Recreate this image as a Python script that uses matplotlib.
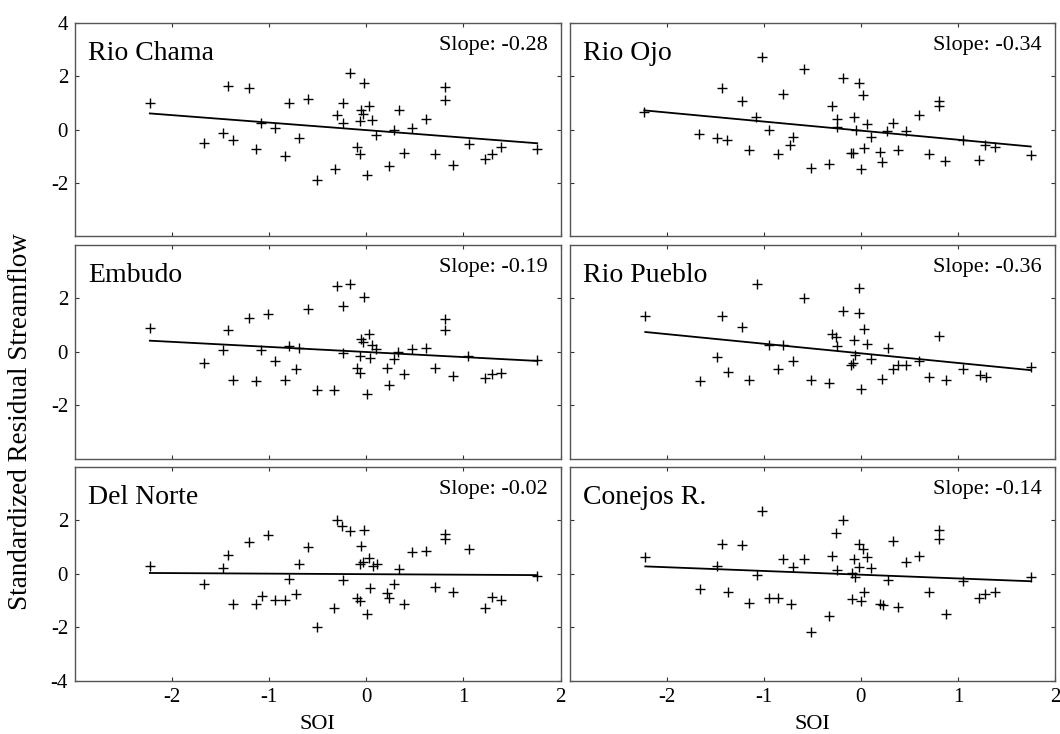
import numpy as np
import matplotlib
matplotlib.use("Agg")
import matplotlib.pyplot as plt

plt.rcParams['font.family'] = ['Liberation Serif', 'DejaVu Serif']
plt.rcParams['axes.unicode_minus'] = False

# SOI vs standardized residual streamflow, one list pair per gauge
chama_soi = [-2.23, -1.67, -1.48, -1.42, -1.37, -1.21, -1.14, -1.08, -0.94, -0.84, -0.80,
             -0.69, -0.60, -0.51, -0.32, -0.30, -0.24, -0.24, -0.17, -0.10, -0.07, -0.06,
             -0.07, -0.02, -0.03, 0.03, 0.06, 0.01, 0.10, 0.23, 0.28, 0.34, 0.39, 0.47,
             0.61, 0.71, 0.81, 0.81, 0.89, 1.06, 1.22, 1.29, 1.39, 1.76]
chama_flow = [1.00, -0.50, -0.13, 1.65, -0.38, 1.55, -0.71, 0.25, 0.04, -0.98, 0.98,
              -0.33, 1.13, -1.90, -1.48, 0.56, 0.98, 0.25, 2.13, -0.65, -0.93, 0.73,
              0.33, 1.76, 0.60, 0.88, 0.35, -1.69, -0.21, -1.38, 0.00, 0.73, -0.88, 0.04,
              0.41, -0.90, 1.60, 1.10, -1.33, -0.53, -1.10, -0.93, -0.65, -0.71]

ojo_soi = [-2.23, -1.67, -1.48, -1.43, -1.38, -1.22, -1.15, -1.08, -1.02, -0.95, -0.85,
           -0.80, -0.73, -0.70, -0.59, -0.51, -0.33, -0.30, -0.25, -0.25, -0.18, -0.10,
           -0.08, -0.07, -0.05, -0.02, 0.02, 0.00, 0.03, 0.06, 0.10, 0.20, 0.22, 0.27,
           0.33, 0.38, 0.47, 0.60, 0.70, 0.80, 0.80, 0.87, 1.05, 1.22, 1.28, 1.38, 1.75]
ojo_flow = [0.64, -0.15, -0.31, 1.56, -0.38, 1.08, -0.75, 0.48, 2.73, 0.00, -0.90,
            1.33, -0.59, -0.28, 2.26, -1.44, -1.28, 0.88, 0.41, 0.10, 1.94, -0.88,
            -0.88, 0.48, 0.00, 1.76, 1.29, -1.46, -0.69, 0.19, -0.28, -0.84, -1.21, -0.06,
            0.25, -0.78, -0.06, 0.54, -0.93, 1.08, 0.90, -1.19, -0.38, -1.13, -0.59, -0.65, -0.94]

embudo_soi = [-2.23, -1.67, -1.48, -1.42, -1.37, -1.21, -1.14, -1.08, -1.01, -0.94, -0.84,
              -0.80, -0.72, -0.69, -0.60, -0.51, -0.33, -0.30, -0.24, -0.24, -0.17, -0.10,
              -0.07, -0.07, -0.06, -0.03, -0.02, 0.01, 0.03, 0.04, 0.06, 0.10, 0.21, 0.23,
              0.29, 0.33, 0.39, 0.47, 0.61, 0.71, 0.81, 0.81, 0.89, 1.05, 1.22, 1.29, 1.39, 1.76]
embudo_flow = [0.90, -0.44, 0.06, 0.80, -1.06, 1.25, -1.10, 0.06, 1.43, -0.35, -1.06,
               0.21, -0.64, 0.15, 1.59, -1.45, -1.45, 2.46, 1.71, -0.04, 2.55, -0.60,
               -0.81, -0.16, 0.46, 0.36, 2.06, -1.58, 0.65, -0.23, 0.24, 0.11, -0.60, -1.26,
               -0.26, -0.01, -0.85, 0.09, 0.15, -0.62, 1.21, 0.81, -0.91, -0.16, -0.98, -0.85, -0.79, -0.31]

pueblo_soi = [-2.22, -1.66, -1.48, -1.43, -1.37, -1.22, -1.15, -1.07, -0.95, -0.85, -0.80,
              -0.70, -0.59, -0.51, -0.33, -0.30, -0.26, -0.25, -0.18, -0.10, -0.08, -0.07,
              -0.06, -0.02, -0.02, 0.00, 0.03, 0.06, 0.10, 0.22, 0.28, 0.33, 0.38, 0.47,
              0.60, 0.70, 0.80, 0.88, 1.05, 1.23, 1.29, 1.75]
pueblo_flow = [1.34, -1.10, -0.19, 1.34, -0.76, 0.94, -1.04, 2.55, 0.24, -0.66, 0.24,
               -0.35, 2.00, -1.06, -1.16, 0.68, 0.55, 0.21, 1.53, -0.51, -0.41, 0.43,
               -0.14, 2.40, 1.46, -1.39, 0.84, 0.30, -0.26, -1.01, 0.15, -0.66, -0.51, -0.50,
               -0.35, -0.95, 0.59, -1.04, -0.66, -0.89, -0.95, -0.58]

norte_soi = [-2.23, -1.67, -1.48, -1.42, -1.37, -1.21, -1.14, -1.07, -1.01, -0.94, -0.84,
             -0.80, -0.72, -0.69, -0.60, -0.51, -0.33, -0.30, -0.25, -0.24, -0.17, -0.10,
             -0.07, -0.06, -0.07, -0.02, -0.03, 0.01, 0.03, 0.04, 0.07, 0.11, 0.21, 0.23,
             0.29, 0.34, 0.39, 0.47, 0.61, 0.71, 0.81, 0.81, 0.89, 1.06, 1.22, 1.29, 1.39, 1.76]
norte_flow = [0.30, -0.38, 0.21, 0.70, -1.13, 1.20, -1.13, -0.81, 1.44, -0.98, -0.98,
              -0.19, -0.76, 0.36, 1.00, -1.98, -1.29, 2.03, 1.80, -0.23, 1.61, -0.89,
              -1.00, 1.03, 0.36, 1.63, 0.46, -1.50, 0.59, -0.51, 0.28, 0.36, -0.70, -0.91,
              -0.39, 0.18, -1.13, 0.81, 0.84, -0.48, 1.50, 1.30, -0.66, 0.94, -1.29, -0.85, -0.98, -0.08]

conejos_soi = [-2.22, -1.66, -1.48, -1.43, -1.37, -1.22, -1.15, -1.07, -1.02, -0.95, -0.85,
               -0.80, -0.72, -0.70, -0.59, -0.51, -0.33, -0.30, -0.26, -0.25, -0.18, -0.09,
               -0.09, -0.07, -0.06, -0.02, -0.02, 0.00, 0.02, 0.03, 0.06, 0.10, 0.20, 0.23,
               0.28, 0.33, 0.38, 0.47, 0.60, 0.70, 0.80, 0.80, 0.88, 1.05, 1.22, 1.28, 1.38, 1.75]
conejos_flow = [0.65, -0.58, 0.30, 1.11, -0.69, 1.09, -1.08, -0.04, 2.34, -0.89, -0.89,
                0.55, -1.13, 0.25, 0.55, -2.19, -1.58, 0.68, 1.55, 0.15, 2.00, -0.94,
                0.05, 0.56, -0.10, 1.13, 0.24, -1.01, 0.93, -0.69, 0.65, 0.21, -1.13, -1.16,
                -0.23, 1.25, -1.23, 0.43, 0.68, -0.69, 1.65, 1.30, -1.50, -0.25, -0.91, -0.75, -0.69, -0.10]

names = ['Rio Chama', 'Rio Ojo', 'Embudo', 'Rio Pueblo', 'Del Norte', 'Conejos R.']
slopes = [-0.28, -0.34, -0.19, -0.36, -0.02, -0.14]
intercepts = [-0.02, -0.04, -0.01, -0.06, -0.01, -0.03]

soi_sets = [chama_soi, ojo_soi, embudo_soi, pueblo_soi, norte_soi, conejos_soi]
flow_sets = [chama_flow, ojo_flow, embudo_flow, pueblo_flow, norte_flow, conejos_flow]


def main():
    fig, axes = plt.subplots(3, 2, figsize=(10.6, 7.34), dpi=100)
    fig.subplots_adjust(left=0.0708, right=0.9953, top=0.969, bottom=0.0726,
                        wspace=0.0186, hspace=0.04)

    for i, ax in enumerate(axes.flat):
        row, col = divmod(i, 2)
        x = np.array(soi_sets[i])
        y = np.array(flow_sets[i])

        ax.plot(x, y, '+', color='black', markersize=7.5, markeredgewidth=1.0)

        # fitted line over the range of the data
        xs = np.array([x.min(), x.max()])
        ax.plot(xs, intercepts[i] + slopes[i] * xs, color='black', linewidth=1.3)

        ax.set_xlim(-3, 2)
        ax.set_ylim(-4, 4)
        ax.set_xticks([-2, -1, 0, 1, 2])
        if row == 0:
            ax.set_yticks([-2, 0, 2, 4])
        elif row == 1:
            ax.set_yticks([-2, 0, 2])
        else:
            ax.set_yticks([-4, -2, 0, 2])

        ax.tick_params(direction='in', length=3, width=0.8, top=True, right=True,
                       labelsize=15, pad=5, color='#333333')
        if row < 2:
            ax.tick_params(labelbottom=False)
        else:
            ax.set_xlabel('SOI', fontsize=16, labelpad=6)
        if col == 1:
            ax.tick_params(labelleft=False)

        for spine in ax.spines.values():
            spine.set_color('#555555')
            spine.set_linewidth(1.0)

        ax.text(0.027, 0.825, names[i], transform=ax.transAxes, fontsize=20,
                ha='left', va='baseline')
        ax.text(0.973, 0.872, 'Slope: %.2f' % slopes[i], transform=ax.transAxes,
                fontsize=16, ha='right', va='baseline')

    fig.text(0.019, 0.425, 'Standardized Residual Streamflow', rotation=90,
             fontsize=19.5, ha='center', va='center')

    plt.savefig('out.png')


if __name__ == "__main__":
    main()
